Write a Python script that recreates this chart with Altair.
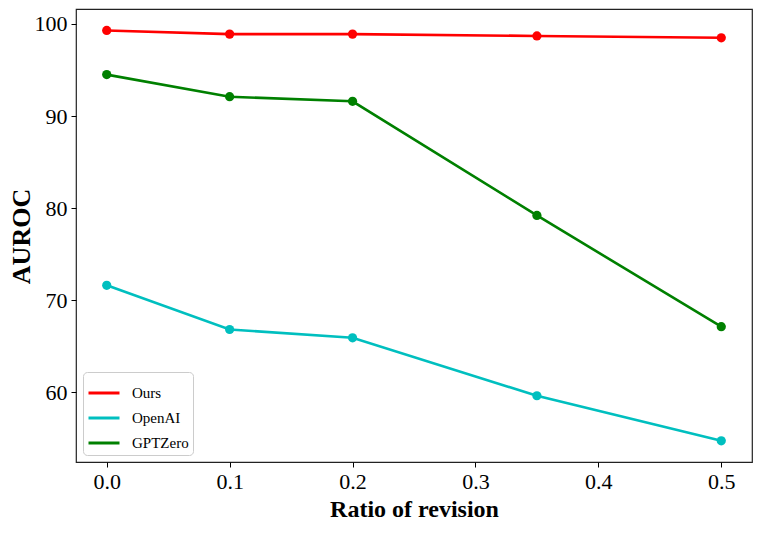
import altair as alt
import pandas as pd

ratios = [0.0, 0.1, 0.2, 0.35, 0.5]
ours = [99.3, 98.9, 98.9, 98.7, 98.5]
openai = [71.6, 66.8, 65.9, 59.6, 54.7]
gptzero = [94.5, 92.1, 91.6, 79.2, 67.1]
series_names = ["Ours", "OpenAI", "GPTZero"]
series_colors = ["#ff0000", "#00bfbf", "#008000"]

rows = []
for name, vals in zip(series_names, [ours, openai, gptzero]):
    for r, v in zip(ratios, vals):
        rows.append({"ratio": r, "auroc": v, "method": name})
df = pd.DataFrame(rows)

font = "Liberation Serif"

x = alt.X("ratio:Q", scale=alt.Scale(domain=[-0.025, 0.525], nice=False, zero=False),
          axis=alt.Axis(values=[0, 0.1, 0.2, 0.3, 0.4, 0.5], format=".1f", title="Ratio of revision",
                        grid=False, tickColor="black", tickSize=5, labelFontSize=22, labelColor="black",
                        labelFont=font, titleFont=font, titleFontSize=24, titleFontWeight="bold",
                        titleColor="black", domain=False, labelPadding=4, titlePadding=5))
y = alt.Y("auroc:Q", scale=alt.Scale(domain=[52.4, 101.63], nice=False, zero=False),
          axis=alt.Axis(values=[60, 70, 80, 90, 100], title="AUROC",
                        grid=False, tickColor="black", tickSize=5, labelFontSize=22, labelColor="black",
                        labelFont=font, titleFont=font, titleFontSize=26, titleFontWeight="bold",
                        titleColor="black", domain=False, labelPadding=4,
                        titleX=-55, titleY=227, titleBaseline="middle", titleAlign="center"))
color = alt.Color("method:N", scale=alt.Scale(domain=series_names, range=series_colors),
                  legend=alt.Legend(title=None, orient="bottom-left", symbolType="stroke",
                                    symbolStrokeWidth=3, symbolSize=961, labelFont=font,
                                    labelFontSize=15, labelColor="black", labelOffset=11,
                                    strokeColor="#cccccc", cornerRadius=4, fillColor="white",
                                    padding=4, offset=7, rowPadding=-12, symbolOffset=0))

base = alt.Chart(df).encode(x=x, y=y, color=color,
                            order=alt.Order("ratio:Q"))
lines = base.mark_line(strokeWidth=2.6)
pts = base.mark_circle(size=85, opacity=1)

chart = (lines + pts).properties(
    width=676, height=453,
    autosize=alt.AutoSizeParams(type="none"),
    padding={"left": 68, "top": 1, "right": 1, "bottom": 63},
).configure_view(stroke="#222222", strokeWidth=1.2)

chart.save("out.html", embed_options={"renderer": "svg", "actions": False})
